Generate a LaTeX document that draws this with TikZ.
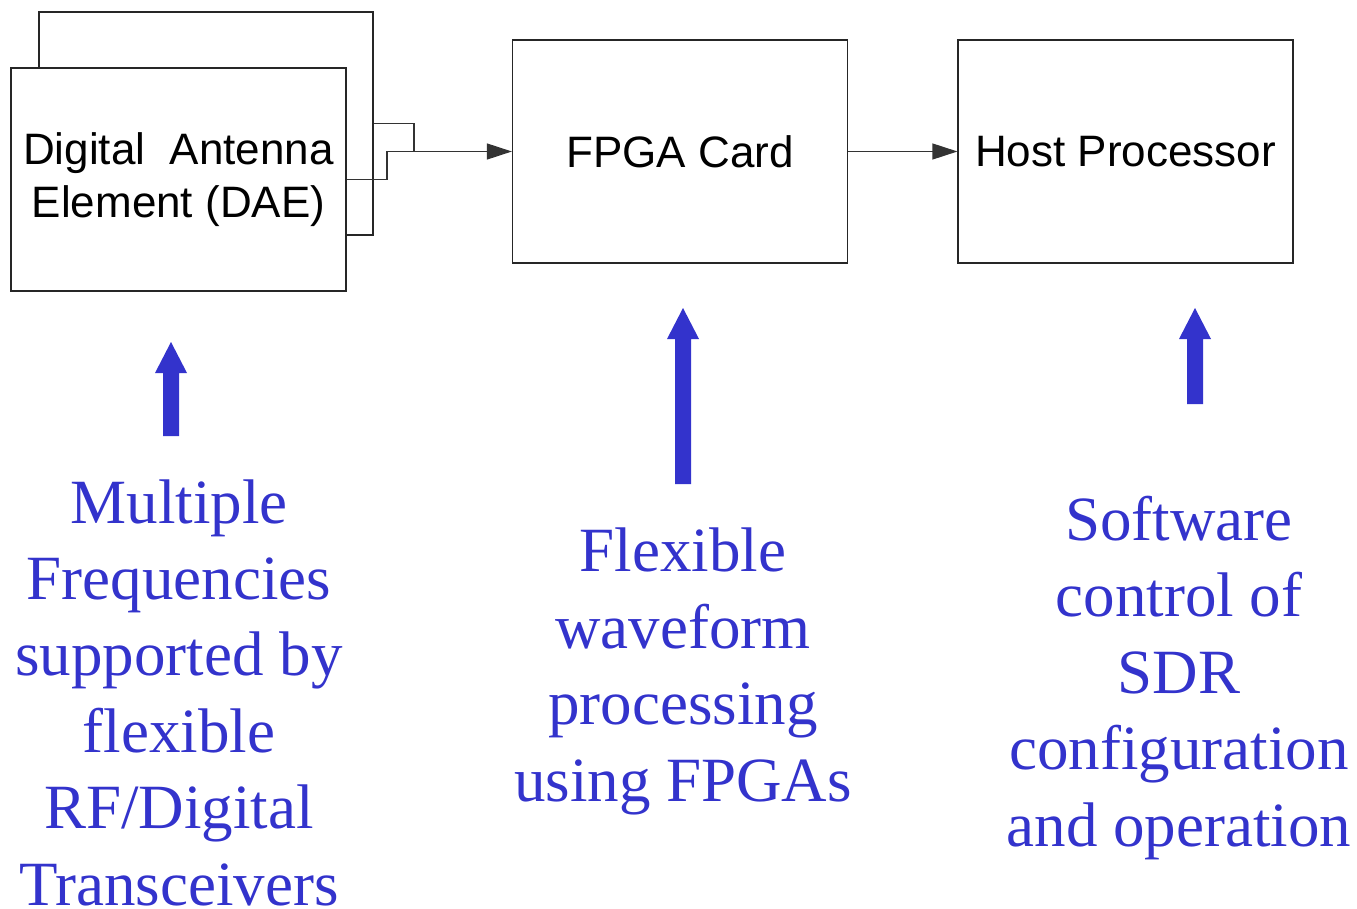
\documentclass[tikz,border=0pt]{standalone}
\usepackage{fontspec}
\setmainfont{Liberation Serif}
\setsansfont{Liberation Sans}
\usetikzlibrary{arrows.meta}
\definecolor{noteblue}{HTML}{3333CC}
\tikzset{
  block/.style={draw=black!85, line width=1.2pt, fill=white, inner sep=0pt,
    minimum width=335pt, minimum height=223pt, align=center,
    font=\sffamily\fontsize{44}{53}\selectfont},
  link/.style={draw=black!80, line width=1.2pt},
  tip/.style={-{Triangle[length=25pt,width=16pt]}},
  note/.style={text=noteblue, align=center, anchor=base, inner sep=0pt,
    font=\rmfamily\fontsize{63}{76.4}\selectfont},
  pics/uparrow/.style n args={1}{code={
    \fill[noteblue] (-8,0) -- (-8,-#1+31) -- (-16,-#1+31) -- (0,-#1)
      -- (16,-#1+31) -- (8,-#1+31) -- (8,0) -- cycle;}}
}
\begin{document}
\begin{tikzpicture}[x=1pt,y=-1pt]
  \useasboundingbox (0,0) rectangle (1357,909);

  % stacked antenna element boxes
  \node[block, minimum width=334pt] (back) at (206,123.5) {};
  \node[block] (front) at (178.5,179.5) {Digital\ \ Antenna\\Element (DAE)};
  \node[block] (fpga) at (680,151.5) {FPGA Card};
  \node[block] (host) at (1125.5,151.5) {Host Processor};

  % combined data path into the FPGA
  \coordinate (j1) at (414,151.5);
  \coordinate (j2) at (387,151.5);
  \draw[link] (back.east) -| (j1);
  \draw[link, tip] (front.east) -| (j2) -- (fpga.west);
  \draw[link, tip] (fpga.east) -- (host.west);

  % blue callout arrows
  \pic at (171,436) {uparrow={94}};
  \pic at (683,484) {uparrow={176}};
  \pic at (1195,404) {uparrow={96}};

  % blue captions (anchored at the baseline of their last line)
  \node[note] (capA) at (179,905) {Multiple\\Frequencies\\supported by\\flexible\\RF/Digital\\Transceivers};
  \node[note] (capB) at (683,801) {Flexible\\waveform\\processing\\using FPGAs};
  \node[note] (capC) at (1179,846) {Software\\control of\\SDR\\configuration\\and operation};
\end{tikzpicture}
\end{document}
